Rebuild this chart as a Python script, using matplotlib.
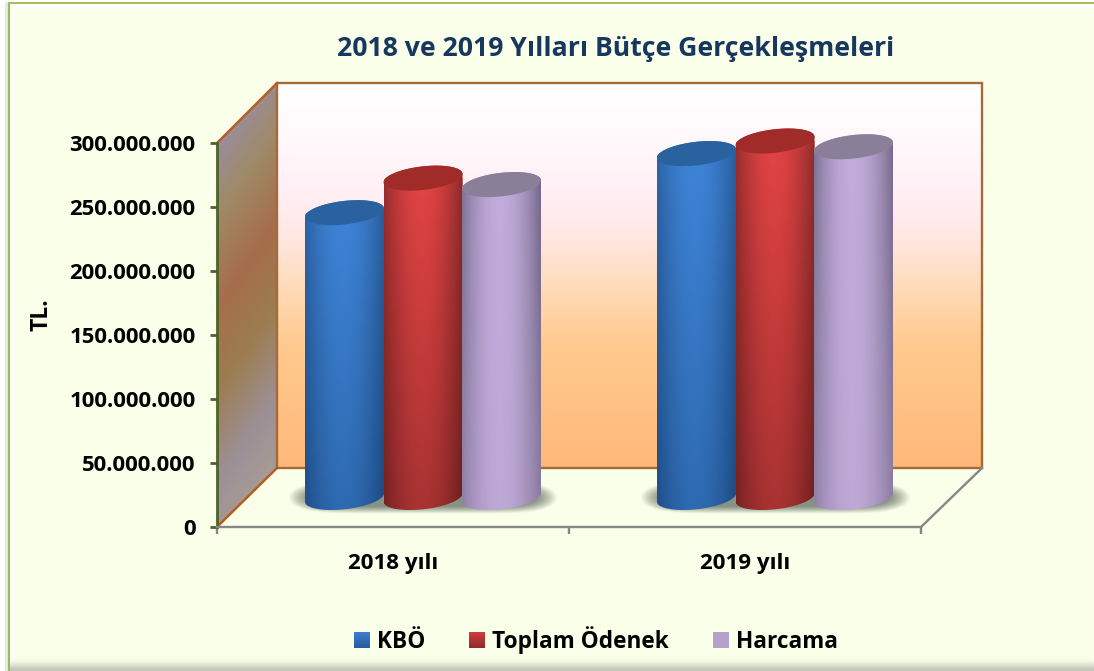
import numpy as np
import matplotlib
matplotlib.use("Agg")
import matplotlib.pyplot as plt
from matplotlib.colors import LinearSegmentedColormap, to_rgb
from matplotlib.patches import PathPatch, Polygon, Rectangle
from matplotlib.path import Path
from matplotlib.legend_handler import HandlerBase
from matplotlib.ticker import FuncFormatter

# ---- data -------------------------------------------------------------
categories = ["2018 yılı", "2019 yılı"]
series_names = ["KBÖ", "Toplam Ödenek", "Harcama"]
kbo = [222_500_000, 268_700_000]
toplam_odenek = [249_500_000, 278_500_000]
harcama = [244_500_000, 274_000_000]
y_ticks = [0, 50_000_000, 100_000_000, 150_000_000, 200_000_000, 250_000_000, 300_000_000]
title = "2018 ve 2019 Yılları Bütçe Gerçekleşmeleri"
y_label = "TL."

# ---- style ------------------------------------------------------------
W, H = 1094, 671
plt.rcParams["font.family"] = ["Open Sans", "DejaVu Sans"]
plt.rcParams["font.weight"] = "bold"
CREAM = np.array(to_rgb("#f9ffe9"))
styles = [
    dict(tc="#3f85d9", te="#2a5f9f", bc="#2e6ab0", be="#1d4a82", top="#2a619f", leg=("#3a7fd2", "#2a5a98")),
    dict(tc="#e44444", te="#8e2b2b", bc="#a83232", be="#6d1f1f", top="#a02b29", leg=("#d23c3c", "#8f2a2a")),
    dict(tc="#c2acdc", te="#75698a", bc="#bea8d6", be="#8b7ca0", top="#8a7f98", leg=("#b3a2c9", "#b3a2c9")),
]

fig = plt.figure(figsize=(W / 100, H / 100), dpi=100, facecolor="white")


def px_axes(left, right, top, bottom, **kw):
    return fig.add_axes([left / W, 1 - bottom / H, (right - left) / W, (bottom - top) / H], **kw)


# ---- background: panel with bevel and walls ---------------------------
bg = px_axes(0, W, 0, H, zorder=0)
bg.set_xlim(0, W)
bg.set_ylim(H, 0)
bg.axis("off")

yy, xx = np.mgrid[0:H, 0:W] + 0.5
panel = np.ones((H, W, 3)) * CREAM
white = np.ones(3)
k_top = np.clip((14 - yy) / 10, 0, 1)
k_left = np.clip((16 - xx) / 6, 0, 1) * 0.8
k_right = np.clip((xx - 1090) / 4, 0, 1) * 0.3
k = np.maximum.reduce([k_top, k_left, k_right])[..., None]
panel = panel * (1 - k) + white * k
gray = np.array(to_rgb("#c4c7ba"))
k_bot = (np.clip((yy - 658) / 11, 0, 1) ** 1.6)[..., None]
panel = panel * (1 - k_bot) + gray * k_bot
panel[:, :5] = 1
panel[:, 5:8] = np.array(to_rgb("#e6e8e2"))
panel[:2, :] = 1
bg.imshow(panel, extent=(0, W, H, 0), aspect="auto", zorder=0, interpolation="nearest")
bg.add_patch(Rectangle((8, 2), 2.2, H, color="#9bbb59", lw=0, zorder=1))
bg.add_patch(Rectangle((8, 2), W, 2, color="#a2c060", lw=0, zorder=1))
bg.set_xlim(0, W)
bg.set_ylim(H, 0)

# back wall
wall_cmap = LinearSegmentedColormap.from_list("wall", [
    (0, "#ffffff"), (0.14, "#fff9fc"), (0.28, "#fff0f5"), (0.40, "#ffe7e2"),
    (0.52, "#ffdcbc"), (0.68, "#ffca8e"), (1, "#ffb87a")])
bg.imshow(np.linspace(0, 1, 256)[:, None], cmap=wall_cmap, extent=(277, 982, 468, 83),
          aspect="auto", zorder=2)
bg.add_patch(Rectangle((277, 83), 705, 385, fill=False, ec="#a66a38", lw=1.7, zorder=3))
# side wall
side_cmap = LinearSegmentedColormap.from_list("side", [
    (0, "#9b8d9c"), (0.17, "#9f8a68"), (0.40, "#a66d4b"), (0.60, "#9c7d50"),
    (0.83, "#9c9098"), (1, "#a89c94")])
sy, sx = np.mgrid[83:528, 217:278]
s = (sy + 1.42 * (sx - 217) - 143) / (553 - 143)
im = bg.imshow(np.clip(s, 0, 1), cmap=side_cmap, vmin=0, vmax=1, extent=(217, 278, 528, 83),
               aspect="auto", zorder=2)
side_poly = Polygon([(217, 143), (277, 83), (277, 468), (217, 527)], closed=True,
                    fc="none", ec="none", transform=bg.transData)
bg.add_patch(side_poly)
im.set_clip_path(side_poly)
bg.plot([217, 277], [143, 83], color="#b9591c", lw=1.7, zorder=3)
bg.plot([217, 277], [527, 468], color="#b9591c", lw=1.7, zorder=3)
# floor right edge
bg.plot([921, 982], [527, 468], color="#868686", lw=1.7, zorder=3)
bg.set_xlim(0, W)
bg.set_ylim(H, 0)

# ---- front plane: axis, ticks, labels ---------------------------------
ax = px_axes(217, 921, 143, 527, zorder=1)
ax.patch.set_alpha(0)
ax.set_xlim(0, len(categories))
ax.set_ylim(0, y_ticks[-1])
for side in ("top", "right"):
    ax.spines[side].set_visible(False)
ax.spines["left"].set_color("#4f6228")
ax.spines["left"].set_linewidth(2.0)
ax.spines["bottom"].set_color("#868686")
ax.spines["bottom"].set_linewidth(1.7)
ax.set_yticks(y_ticks)
ax.yaxis.set_major_formatter(FuncFormatter(lambda v, _: f"{int(v):,}".replace(",", ".")))
ax.tick_params(axis="y", length=5, width=2.0, color="#4f6228", labelsize=15.9, pad=10.5, labelcolor="black")
ax.set_xticks(range(len(categories) + 1))
ax.set_xticklabels([])
ax.tick_params(axis="x", which="major", length=5, width=1.7, color="#868686")
ax.set_xticks(np.arange(len(categories)) + 0.5, minor=True)
ax.set_xticklabels(categories, minor=True)
ax.tick_params(axis="x", which="minor", length=0, labelsize=16.1, pad=18.5, labelcolor="black")
ax.set_ylabel(y_label, fontsize=16.5, fontweight="bold", color="black")
ax.yaxis.set_label_coords((54 - 217) / 704, (527 - 315) / 384)

# ---- cylinders: plane halfway between the front and the back wall -----
LOW = -30_000_000
y_per_px = y_ticks[-1] / 384
low_px = -LOW / y_per_px
bx = px_axes(247, 951, 113.5, 497.5 + low_px, zorder=2)
bx.patch.set_alpha(0)
bx.axis("off")
bx.set_xlim(0, len(categories))
bx.set_ylim(LOW, y_ticks[-1])
x_per_px = len(categories) / 704

BW = 79 * x_per_px
STEP = 78.5 * x_per_px
EB = 11.8 * y_per_px     # ellipse half height
ES = 4.2 * y_per_px      # ellipse tilt (rise at the right end)
centers = np.arange(len(categories)) + 0.5

# ground shadow of each group
for c in centers:
    sh_w, sh_h = 135 * x_per_px, 16.5 * y_per_px
    sx_, sy_ = np.meshgrid(np.linspace(-1, 1, 300), np.linspace(-1, 1, 80))
    r = (np.abs(sx_) ** 7 + sy_ ** 2)
    a = np.clip((1 - r) / 0.7, 0, 1) ** 1.1 * 0.72
    rgba = np.zeros(a.shape + (4,))
    rgba[..., :3] = to_rgb("#5c685c")
    rgba[..., 3] = a
    bx.imshow(rgba, extent=(c - sh_w, c + sh_w, -sh_h, sh_h), aspect="auto", zorder=1, origin="lower")


def ell(cx, cy, t):
    a = BW / 2
    return np.c_[cx + a * np.cos(t), cy + EB * np.sin(t) + ES * np.cos(t)]


def lerp(c1, c2, t):
    return np.array(to_rgb(c1)) * (1 - t) + np.array(to_rgb(c2)) * t


for i, (name, vals, st) in enumerate(zip(series_names, (kbo, toplam_odenek, harcama), styles)):
    offs = (i - 1) * STEP
    bars = bx.bar(centers + offs, vals, BW, color=st["tc"], linewidth=0, zorder=5 + 2 * i, label=name)
    for rect in bars:
        cx = rect.get_x() + rect.get_width() / 2
        v = rect.get_height()
        # body outline: bottom half of the base ellipse, up, back along the top ellipse
        base = ell(cx, 0, np.linspace(np.pi, 2 * np.pi, 60))
        topc = ell(cx, v, np.linspace(0, np.pi, 60))
        body = Path(np.vstack([base, topc, base[:1]]), closed=True)
        body_patch = PathPatch(body, fc="none", ec="none", transform=bx.transData, zorder=0)
        bx.add_patch(body_patch)
        rect.set_clip_path(body_patch)
        # shaded surface
        u = np.linspace(0, 1, 200)
        prof = np.sin(np.pi * np.clip(u * 0.98 + 0.03, 0, 1)) ** 0.9
        vt = np.linspace(0, 1, 60)[:, None, None]
        pf = prof[None, :, None]
        top_row = lerp(st["te"], st["tc"], pf)
        bot_row = lerp(st["be"], st["bc"], pf)
        img = top_row * (1 - vt) + bot_row * vt
        m = bx.imshow(np.clip(img, 0, 1), aspect="auto", origin="upper",
                      extent=(cx - BW / 2, cx + BW / 2, -EB - ES, v + EB + ES),
                      zorder=5 + 2 * i + 0.5)
        m.set_clip_path(body_patch)
        # top face
        bx.add_patch(Polygon(ell(cx, v, np.linspace(0, 2 * np.pi, 120)), closed=True,
                             fc=st["top"], ec="none", zorder=5 + 2 * i + 0.6))
bx.set_xlim(0, len(categories))
bx.set_ylim(LOW, y_ticks[-1])

# ---- title ------------------------------------------------------------
fig.text(615.5 / W, 1 - 48.5 / H, title, ha="center", va="center", fontsize=19.2,
         fontweight="bold", color="#17375e", zorder=5)


# ---- legend with gradient keys ----------------------------------------
class GradKey:
    def __init__(self, c1, c2):
        self.c1, self.c2 = c1, c2


class GradHandler(HandlerBase):
    def create_artists(self, legend, orig, x0, y0, w, h, fontsize, trans):
        n = 12
        out = []
        for j in range(n):
            col = lerp(orig.c2, orig.c1, (j + 0.5) / n)
            out.append(Rectangle((x0, y0 + h * j / n), w, h / n + 0.3, fc=col, ec="none", transform=trans))
        return out


keys = [GradKey(*st["leg"]) for st in styles]
leg = fig.legend(keys, series_names, handler_map={GradKey: GradHandler()}, ncol=3,
                 loc="center", bbox_to_anchor=(596 / W, 1 - 640 / H), frameon=False,
                 fontsize=16.3, handlelength=0.7, handleheight=0.7, handletextpad=0.3,
                 columnspacing=1.95, borderpad=0, borderaxespad=0)

fig.savefig("out.png", dpi=100)
